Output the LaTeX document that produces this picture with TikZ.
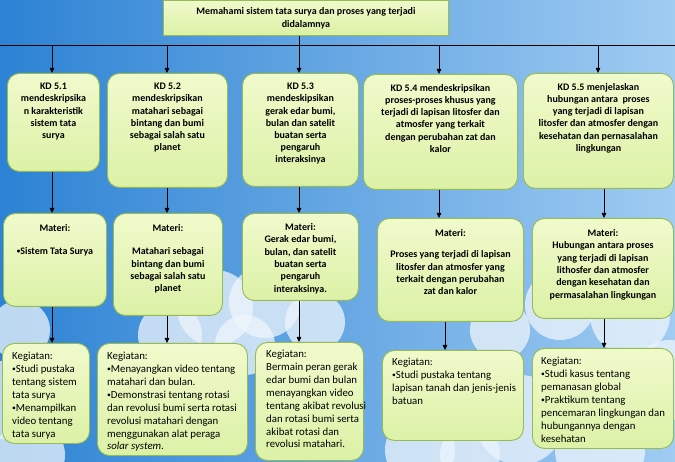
\documentclass[tikz,border=0pt]{standalone}
\usepackage{fontspec}
\setmainfont{Carlito}
\usetikzlibrary{arrows.meta,positioning}
\definecolor{SkyDeep}{RGB}{44,130,212}
\definecolor{SkyPale}{RGB}{160,204,242}
\definecolor{CloudWhite}{RGB}{238,245,252}
\definecolor{BoxFill}{RGB}{240,250,204}
\definecolor{BoxFillLow}{RGB}{220,241,166}
\definecolor{BoxEdge}{RGB}{150,186,84}
\newcommand{\dotmark}{\raisebox{.2ex}{\scalebox{.7}{\textbullet}}}

\tikzset{
  cardbox/.style={draw=BoxEdge,line width=.9pt,top color=BoxFill,bottom color=BoxFillLow,
    rounded corners=12pt,anchor=north west,inner sep=0pt},
  kdtext/.style={font=\fontsize{10}{12.2}\selectfont\bfseries,align=center,anchor=north,inner sep=0pt},
  mattext/.style={font=\fontsize{10}{12.4}\selectfont\bfseries,align=center,anchor=north,inner sep=0pt},
  kegtext/.style={font=\fontsize{10.8}{12.9}\selectfont,align=left,anchor=north west,inner sep=0pt},
  cloud/.style={fill=CloudWhite,opacity=.75},
  flow/.style={-{Triangle[length=5pt,width=4.5pt]},line width=.8pt}
}

\begin{document}
\begin{tikzpicture}[x=1pt,y=-1pt]
  % sky
  \fill[left color=SkyDeep,right color=SkyPale] (0,0) rectangle (675,462);
  \useasboundingbox (0,0) rectangle (675,462);
  \foreach \cx/\cy/\r in {170/335/32,215/308/38,265/302/36,315/322/30,245/345/30,
      20/330/30,10/400/40,30/455/35,
      500/330/30,560/305/35,630/315/40,670/380/40,520/420/45,600/450/45,420/450/35,470/455/30}
    \fill[cloud] (\cx,\cy) circle (\r);

  % top
  \node[draw=BoxEdge,line width=.9pt,top color=BoxFill,bottom color=BoxFillLow,
    minimum width=285pt,minimum height=35pt,anchor=north west,inner sep=0pt,
    align=center,font=\fontsize{10}{13}\selectfont\bfseries] (goal) at (163,0)
    {Memahami sistem tata surya dan proses yang terjadi\\didalamnya};
  \coordinate (hl) at (0,45);
  \coordinate (hr) at (675,45);
  \foreach \i/\x in {1/52,2/167,3/299,4/439,5/598}
    \coordinate (h\i) at (\x,45);
  \foreach \i/\x in {1/52,2/167,3/299,4/445,5/604}
    \coordinate (l\i) at (\x,300);

  % KD boxes
  \node[cardbox,minimum width=92pt,minimum height=98pt] (kd1) at (7,73) {};
  \node[cardbox,minimum width=120pt,minimum height=114pt] (kd2) at (107,73) {};
  \node[cardbox,minimum width=116pt,minimum height=113pt] (kd3) at (242,73) {};
  \node[cardbox,minimum width=154pt,minimum height=115pt] (kd4) at (363,74) {};
  \node[cardbox,minimum width=150pt,minimum height=115pt] (kd5) at (523,73) {};
  \node[kdtext] (kd1t) at ([yshift=-10pt]kd1.north)
    {KD 5.1\\mendeskripsika\\n karakteristik\\sistem tata\\surya};
  \node[kdtext] (kd2t) at ([yshift=-10pt]kd2.north)
    {KD 5.2\\mendeskripsikan\\matahari sebagai\\bintang dan bumi\\sebagai salah satu\\planet};
  \node[kdtext] (kd3t) at ([yshift=-10pt]kd3.north)
    {KD 5.3\\mendeskipsikan\\gerak edar bumi,\\bulan dan satelit\\buatan serta\\pengaruh\\interaksinya};
  \node[kdtext] (kd4t) at ([yshift=-10pt]kd4.north)
    {KD 5.4 mendeskripsikan\\proses-proses khusus yang\\terjadi di lapisan litosfer dan\\atmosfer yang terkait\\dengan perubahan zat dan\\kalor};
  \node[kdtext] (kd5t) at ([yshift=-10pt]kd5.north)
    {KD 5.5 menjelaskan\\hubungan antara\ \ proses\\yang terjadi di lapisan\\litosfer dan atmosfer dengan\\kesehatan dan pernasalahan\\lingkungan};

  % Materi boxes
  \node[cardbox,minimum width=103pt,minimum height=93pt] (mat1) at (3,213) {};
  \node[cardbox,minimum width=109pt,minimum height=102pt] (mat2) at (113,213) {};
  \node[cardbox,minimum width=116pt,minimum height=87pt] (mat3) at (242,213) {};
  \node[cardbox,minimum width=146pt,minimum height=103pt] (mat4) at (377,218) {};
  \node[cardbox,minimum width=141pt,minimum height=100pt] (mat5) at (532,218) {};
  \node[mattext] (mat1t) at ([yshift=-11pt]mat1.north)
    {Materi:\\[11pt]\dotmark Sistem Tata Surya};
  \node[mattext] (mat2t) at ([yshift=-11pt]mat2.north)
    {Materi:\\[11pt]Matahari sebagai\\bintang dan bumi\\sebagai salah satu\\planet};
  \node[mattext] (mat3t) at ([yshift=-10pt]mat3.north)
    {Materi:\\Gerak edar bumi,\\bulan, dan satelit\\buatan serta\\pengaruh\\interaksinya.};
  \node[mattext] (mat4t) at ([yshift=-11pt]mat4.north)
    {Materi:\\[9pt]Proses yang terjadi di lapisan\\litosfer dan atmosfer yang\\terkait dengan perubahan\\zat dan kalor};
  \node[mattext] (mat5t) at ([yshift=-11pt]mat5.north)
    {Materi:\\Hubungan antara proses\\yang terjadi di lapisan\\lithosfer dan atmosfer\\dengan kesehatan dan\\permasalahan lingkungan};

  % Kegiatan boxes
  \node[cardbox,minimum width=87pt,minimum height=100pt] (keg1) at (2,343) {};
  \node[cardbox,minimum width=150pt,minimum height=112pt] (keg2) at (97,343) {};
  \node[cardbox,minimum width=108pt,minimum height=118pt] (keg3) at (255,342) {};
  \node[cardbox,minimum width=141pt,minimum height=90pt] (keg4) at (382,350) {};
  \node[cardbox,minimum width=141pt,minimum height=100pt] (keg5) at (532,348) {};
  \node[kegtext] (keg1t) at ([xshift=10pt,yshift=-9pt]keg1.north west)
    {Kegiatan:\\\dotmark Studi pustaka\\tentang sistem\\tata surya\\\dotmark Menampilkan\\video tentang\\tata surya};
  \node[kegtext] (keg2t) at ([xshift=10pt,yshift=-9pt]keg2.north west)
    {Kegiatan:\\\dotmark Menayangkan video tentang\\matahari dan bulan.\\\dotmark Demonstrasi tentang rotasi\\dan revolusi bumi serta rotasi\\revolusi matahari dengan\\menggunakan alat peraga\\\textit{solar system}.};
  \node[kegtext] (keg3t) at ([xshift=11pt,yshift=-8pt]keg3.north west)
    {Kegiatan:\\Bermain peran gerak\\edar bumi dan bulan\\menayangkan video\\tentang akibat revolusi\\dan rotasi bumi serta\\akibat rotasi dan\\revolusi matahari.};
  \node[kegtext] (keg4t) at ([xshift=10pt,yshift=-8pt]keg4.north west)
    {Kegiatan:\\\dotmark Studi pustaka tentang\\lapisan tanah dan jenis-jenis\\batuan};
  \node[kegtext] (keg5t) at ([xshift=9pt,yshift=-9pt]keg5.north west)
    {Kegiatan:\\\dotmark Studi kasus tentang\\pemanasan global\\\dotmark Praktikum tentang\\pencemaran lingkungan dan\\hubungannya dengan\\kesehatan};

  % connectors
  \draw[line width=.8pt] (hl) -- (hr);
  \draw[line width=.8pt] (goal.south -| h3) -- (h3);
  \foreach \i in {1,...,5}{
    \draw[flow] (h\i) -- (h\i |- kd\i.north);
  }
  \foreach \i in {1,2,3}
    \draw[flow] (kd\i.south -| h\i) -- (mat\i.north -| h\i);
  \draw[flow] (kd4.south -| h4) -- (mat4.north -| h4);
  \draw[flow] (kd5.south -| l5) -- (mat5.north -| l5);
  \foreach \i in {1,...,5}
    \draw[flow] (mat\i.south -| l\i) -- (keg\i.north -| l\i);
\end{tikzpicture}
\end{document}
